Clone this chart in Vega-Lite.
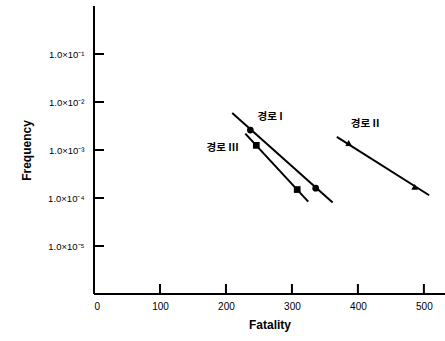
{
  "$schema": "https://vega.github.io/schema/vega-lite/v6.json",
  "width": 351,
  "height": 288,
  "autosize": {"type": "none"},
  "padding": {"left": 94, "top": 6, "right": 0, "bottom": 47},
  "background": "white",
  "config": {
    "view": {"stroke": null},
    "font": "Liberation Sans",
    "axis": {"grid": false, "domain": false, "ticks": false, "labelColor": "black", "titleColor": "black"}
  },
  "datasets": {
    "lines": [
      {"route": "I", "fatality": 209.5, "frequency": 0.0059},
      {"route": "I", "fatality": 361.7, "frequency": 0.000081},
      {"route": "III", "fatality": 229.3, "frequency": 0.0022},
      {"route": "III", "fatality": 324.7, "frequency": 0.000084},
      {"route": "II", "fatality": 368, "frequency": 0.00187},
      {"route": "II", "fatality": 508, "frequency": 0.000114}
    ],
    "points": [
      {"route": "I", "fatality": 237, "frequency": 0.0026},
      {"route": "I", "fatality": 336, "frequency": 0.00016},
      {"route": "III", "fatality": 246, "frequency": 0.00125},
      {"route": "III", "fatality": 308, "frequency": 0.00015},
      {"route": "II", "fatality": 386, "frequency": 0.0014},
      {"route": "II", "fatality": 486, "frequency": 0.00017}
    ],
    "labels": [
      {"label": "경로 I", "fatality": 267, "frequency": 0.0049},
      {"label": "경로 III", "fatality": 195, "frequency": 0.0011},
      {"label": "경로 II", "fatality": 411, "frequency": 0.0034}
    ],
    "xticks": [{"v": 100}, {"v": 200}, {"v": 300}, {"v": 400}, {"v": 500}],
    "yticks": [{"v": 0.00001}, {"v": 0.0001}, {"v": 0.001}, {"v": 0.01}, {"v": 0.1}]
  },
  "layer": [
    {
      "data": {"name": "lines"},
      "mark": {"type": "line", "color": "black", "strokeWidth": 2},
      "encoding": {
        "x": {"field": "fatality", "type": "quantitative", "scale": {"domain": [0, 532], "nice": false},
          "axis": {"values": [0, 100, 200, 300, 400, 500], "title": "Fatality", "labelPadding": 7, "labelFontSize": 10, "titleFontSize": 12, "titleFontWeight": "bold", "titlePadding": 8}},
        "y": {"field": "frequency", "type": "quantitative", "scale": {"type": "log", "domain": [0.000001, 1], "nice": false},
          "axis": {"values": [0.00001, 0.0001, 0.001, 0.01, 0.1], "title": "Frequency", "labelPadding": 10, "labelFontSize": 9.5,
            "labelExpr": "'1.0×10⁻' + ['','¹','²','³','⁴','⁵','⁶'][round(-log(datum.value)/LN10)]",
            "titleFontSize": 12, "titleFontWeight": "bold", "titlePadding": 14}},
        "detail": {"field": "route"}
      }
    },
    {
      "data": {"values": [{}]},
      "mark": {"type": "rule", "color": "black", "strokeWidth": 2},
      "encoding": {"x": {"datum": 0, "type": "quantitative"}}
    },
    {
      "data": {"values": [{}]},
      "mark": {"type": "rule", "color": "black", "strokeWidth": 2},
      "encoding": {"y": {"datum": 0.000001, "type": "quantitative"}}
    },
    {
      "data": {"name": "points"},
      "mark": {"type": "point", "filled": true, "color": "black", "opacity": 1, "size": 45},
      "encoding": {
        "x": {"field": "fatality", "type": "quantitative"},
        "y": {"field": "frequency", "type": "quantitative"},
        "shape": {"field": "route", "type": "nominal", "scale": {"domain": ["I", "II", "III"], "range": ["circle", "triangle-up", "square"]}, "legend": null}
      }
    },
    {
      "data": {"name": "labels"},
      "mark": {"type": "text", "color": "black", "fontSize": 10.5, "font": "Noto Sans CJK KR", "fontWeight": "bold"},
      "encoding": {
        "x": {"field": "fatality", "type": "quantitative"},
        "y": {"field": "frequency", "type": "quantitative"},
        "text": {"field": "label"}
      }
    },
    {
      "data": {"name": "xticks"},
      "mark": {"type": "tick", "orient": "vertical", "color": "black", "thickness": 2, "size": 10, "yOffset": -5, "opacity": 1},
      "encoding": {
        "x": {"field": "v", "type": "quantitative"},
        "y": {"datum": 0.000001, "type": "quantitative"}
      }
    },
    {
      "data": {"name": "yticks"},
      "mark": {"type": "tick", "orient": "horizontal", "color": "black", "thickness": 2, "size": 10, "xOffset": 5, "opacity": 1},
      "encoding": {
        "y": {"field": "v", "type": "quantitative"},
        "x": {"datum": 0, "type": "quantitative"}
      }
    }
  ]
}
